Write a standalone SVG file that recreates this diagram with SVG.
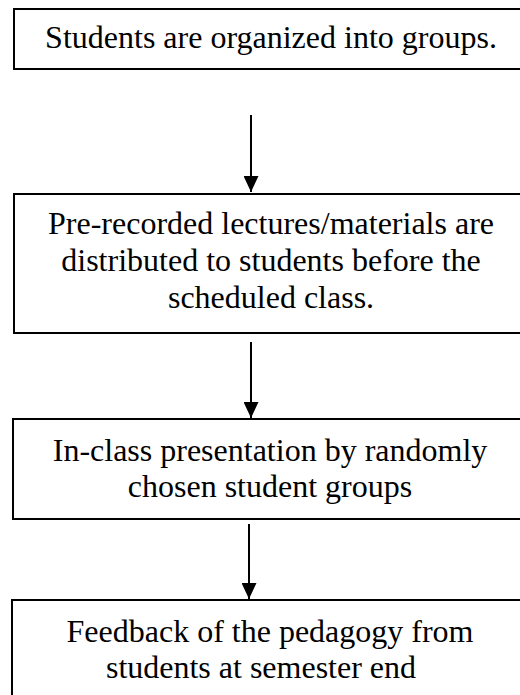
<svg xmlns="http://www.w3.org/2000/svg" width="520" height="695" viewBox="0 0 520 695">
<style>
.box{fill:#fff;stroke:#000;stroke-width:2}
.t{font-family:"Liberation Serif","Times New Roman",serif;font-size:32px;fill:#000;text-anchor:middle}
.c{stroke:#000;stroke-width:2;fill:none}
</style>
<defs>
<marker id="ah" viewBox="0 0 16 15" refX="16" refY="7.5" markerWidth="16" markerHeight="15" markerUnits="userSpaceOnUse" orient="auto">
<path d="M0,0 L16,7.5 L0,15 Z" fill="#000"/>
</marker>
</defs>
<rect width="520" height="695" fill="#fff"/>
<g id="n1"><rect class="box" x="14" y="9" width="530" height="60"/>
<text class="t" x="271" y="48">Students are organized into groups.</text></g>
<g id="n2"><rect class="box" x="14" y="194" width="530" height="139"/>
<text class="t" x="271" y="234">Pre-recorded lectures/materials are</text>
<text class="t" x="271" y="271">distributed to students before the</text>
<text class="t" x="271" y="308">scheduled class.</text></g>
<g id="n3"><rect class="box" x="13" y="419" width="530" height="100"/>
<text class="t" x="270" y="461">In-class presentation by randomly</text>
<text class="t" x="270" y="497">chosen student groups</text></g>
<g id="n4"><rect class="box" x="12" y="600" width="530" height="120"/>
<text class="t" x="270" y="642">Feedback of the pedagogy from</text>
<text class="t" x="261" y="678">students at semester end</text></g>
<g id="connectors">
<line class="c" x1="251" y1="115" x2="251" y2="192" marker-end="url(#ah)"/>
<line class="c" x1="251" y1="342" x2="251" y2="418" marker-end="url(#ah)"/>
<line class="c" x1="249" y1="524" x2="249" y2="599" marker-end="url(#ah)"/>
</g>
</svg>
